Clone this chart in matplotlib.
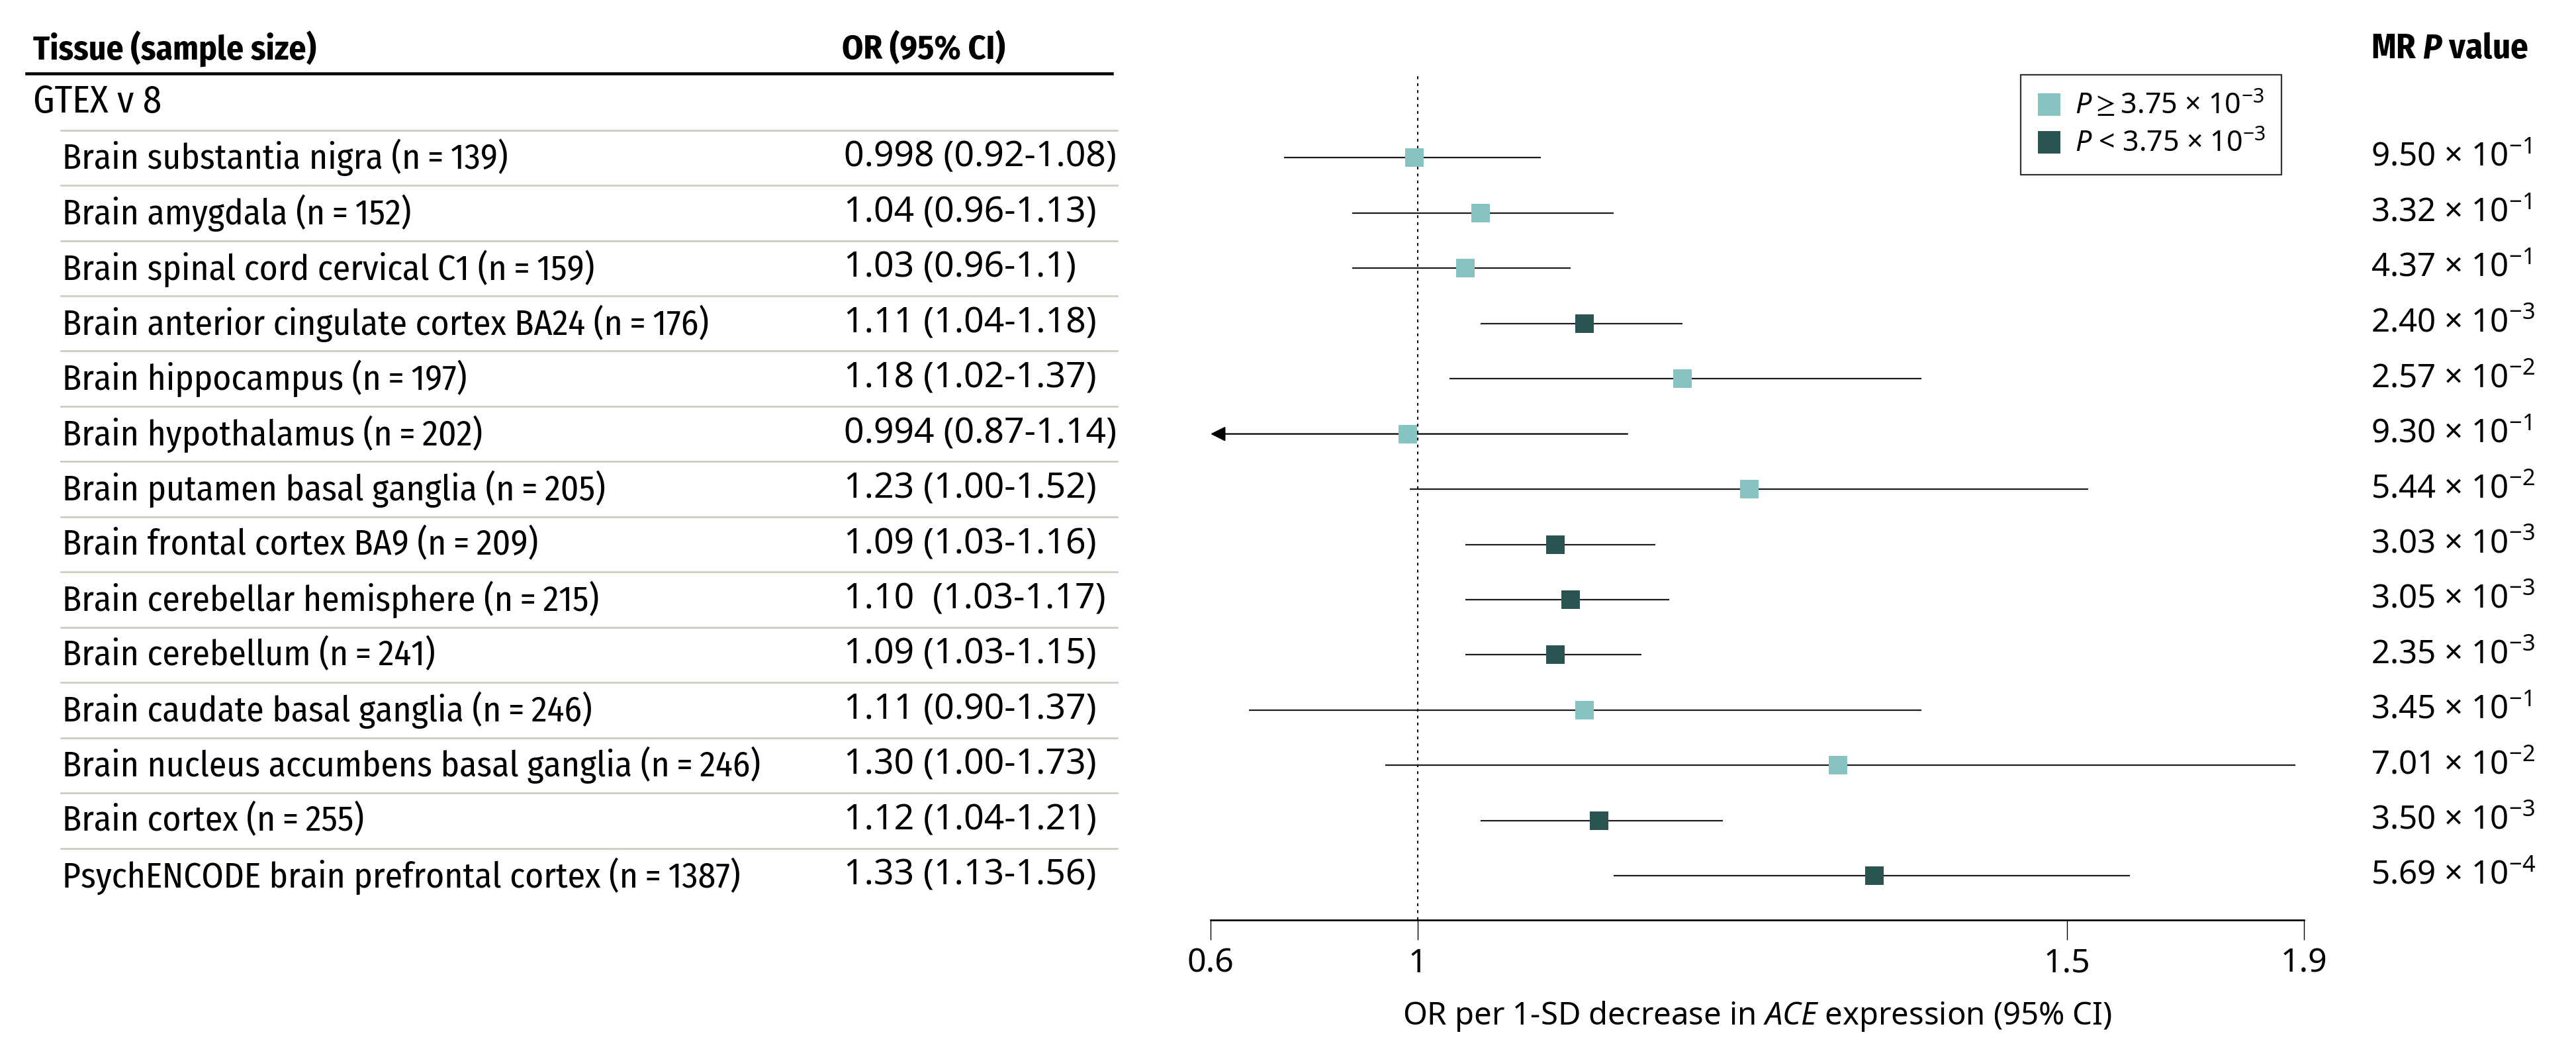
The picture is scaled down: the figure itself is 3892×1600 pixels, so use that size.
"""
Forest plot: MR estimates of ACE expression by brain tissue (GTEx v8 / PsychENCODE).
Output: out.png
"""
import matplotlib
matplotlib.use("Agg")
import matplotlib.pyplot as plt
import matplotlib.transforms as mtransforms
from matplotlib.lines import Line2D
from matplotlib.ticker import FixedLocator, FixedFormatter, NullLocator
import numpy as np

TISSUES = [
    "Brain substantia nigra (n\u2009=\u2009139)",
    "Brain amygdala (n\u2009=\u2009152)",
    "Brain spinal cord cervical C1 (n\u2009=\u2009159)",
    "Brain anterior cingulate cortex BA24 (n\u2009=\u2009176)",
    "Brain hippocampus (n\u2009=\u2009197)",
    "Brain hypothalamus (n\u2009=\u2009202)",
    "Brain putamen basal ganglia (n\u2009=\u2009205)",
    "Brain frontal cortex BA9 (n\u2009=\u2009209)",
    "Brain cerebellar hemisphere (n\u2009=\u2009215)",
    "Brain cerebellum (n\u2009=\u2009241)",
    "Brain caudate basal ganglia (n\u2009=\u2009246)",
    "Brain nucleus accumbens basal ganglia (n\u2009=\u2009246)",
    "Brain cortex (n\u2009=\u2009255)",
    "PsychENCODE brain prefrontal cortex (n\u2009=\u20091387)",
]
OR_TEXT = [
    "0.998 (0.92-1.08)", "1.04 (0.96-1.13)", "1.03 (0.96-1.1)", "1.11 (1.04-1.18)",
    "1.18 (1.02-1.37)", "0.994 (0.87-1.14)", "1.23 (1.00-1.52)", "1.09 (1.03-1.16)",
    "1.10  (1.03-1.17)", "1.09 (1.03-1.15)", "1.11 (0.90-1.37)", "1.30 (1.00-1.73)",
    "1.12 (1.04-1.21)", "1.33 (1.13-1.56)",
]
OR_EST = [0.998, 1.04, 1.03, 1.11, 1.18, 0.994, 1.23, 1.09, 1.10, 1.09, 1.11, 1.30, 1.12, 1.33]
CI_LO = [0.92, 0.96, 0.96, 1.04, 1.02, 0.87, 0.995, 1.03, 1.03, 1.03, 0.90, 0.98, 1.04, 1.13]
CI_HI = [1.08, 1.13, 1.10, 1.18, 1.37, 1.14, 1.52, 1.16, 1.17, 1.15, 1.37, 1.73, 1.21, 1.56]
P_MANT = ["9.50", "3.32", "4.37", "2.40", "2.57", "9.30", "5.44",
          "3.03", "3.05", "2.35", "3.45", "7.01", "3.50", "5.69"]
P_EXP = [-1, -1, -1, -3, -2, -1, -2, -3, -3, -3, -1, -2, -3, -4]
P_CUT = 3.75e-3

# displayed axis range and the (nonlinear) labels printed at its ends
X_RANGE = (0.8786, 1.7395)
TICK_POS = [X_RANGE[0], 1.0, 1.5, X_RANGE[1]]
TICK_LABELS = ["0.6", "1", "1.5", "1.9"]

LIGHT = "#86c3c1"
DARK = "#2a5452"
SEP = "#c9cfc2"
COND = ["Fira Sans Condensed", "DejaVu Sans"]
NUM = ["Noto Sans", "DejaVu Sans"]

plt.rcParams["mathtext.fontset"] = "custom"
plt.rcParams["mathtext.rm"] = "Noto Sans"
plt.rcParams["mathtext.it"] = "Noto Sans:italic"
plt.rcParams["mathtext.bfit"] = "Fira Sans Condensed:italic:bold"
plt.rcParams["mathtext.fallback"] = "stixsans"

W, H = 3892, 1600


def fx(px):
    return px / W


def fy(py):
    return 1 - py / H


def main():
    n = len(TISSUES)
    y = np.arange(n)
    p_vals = np.array([float(m) * 10.0 ** e for m, e in zip(P_MANT, P_EXP)])
    colors = [DARK if p < P_CUT else LIGHT for p in p_vals]

    fig = plt.figure(figsize=(W / 100, H / 100), dpi=100)
    ax = fig.add_axes([fx(1829), fy(1390), fx(3481 - 1829), (1390 - 112) / H])
    ax.set_xscale("log")
    ax.set_xlim(*X_RANGE)
    ax.set_ylim(13.8, -1.514)

    # CIs and point estimates
    for yi, lo, hi, est, c in zip(y, CI_LO, CI_HI, OR_EST, colors):
        if lo < X_RANGE[0]:
            ax.annotate("", xy=(X_RANGE[0], yi), xytext=(hi, yi),
                        arrowprops=dict(arrowstyle="-|>", color="black", lw=1.6,
                                        mutation_scale=34, shrinkA=0, shrinkB=0),
                        zorder=2)
        else:
            ax.hlines(yi, lo, hi, color="#1c1c1c", linewidth=1.6, zorder=2)
        ax.plot(est, yi, marker="s", markersize=20, color=c, markeredgewidth=0,
                linestyle="none", zorder=3)

    ax.axvline(1.0, color="black", linewidth=1.4, linestyle=(0, (2.2, 3.2)), zorder=1)

    for s in ("top", "left", "right"):
        ax.spines[s].set_visible(False)
    ax.spines["bottom"].set_linewidth(1.9)
    ax.yaxis.set_visible(False)
    ax.xaxis.set_major_locator(FixedLocator(TICK_POS))
    ax.xaxis.set_major_formatter(FixedFormatter(TICK_LABELS))
    ax.xaxis.set_minor_locator(NullLocator())
    ax.tick_params(axis="x", direction="out", length=21.5, width=1.0, pad=8,
                   labelsize=36)
    for lab in ax.get_xticklabels():
        lab.set_family(NUM)
    ax.set_xlabel("OR per 1-SD decrease in $\\mathit{ACE}$ expression (95% CI)",
                  fontsize=34, family=NUM, labelpad=21)

    # table on the left and P values on the right
    trans = mtransforms.blended_transform_factory(fig.transFigure, ax.transData)
    fig.text(fx(50), fy(74), "Tissue (sample size)", fontsize=37, family=COND,
             weight="bold", va="center")
    fig.text(fx(1272), fy(74), "OR (95% CI)", fontsize=37, family=COND,
             weight="bold", va="center")
    fig.text(fx(3582), fy(74), "MR $\\mathbfit{P}$ value", fontsize=38, family=COND,
             weight="bold", va="center")
    fig.add_artist(Line2D([fx(40), fx(1680)], [fy(111), fy(111)], color="black",
                          linewidth=3.3))
    ax.text(fx(50), -1, "GTEX v 8", transform=trans, fontsize=41, family=COND,
            va="center")
    for yi in y:
        ax.add_line(Line2D([fx(92), fx(1688)], [yi - 0.5, yi - 0.5], transform=trans,
                           color=SEP, linewidth=2.0, clip_on=False))
    for yi, name, ort, m, e in zip(y, TISSUES, OR_TEXT, P_MANT, P_EXP):
        ax.text(fx(94), yi, name, transform=trans, fontsize=38.5, family=COND,
                va="center")
        ax.text(fx(1275), yi, ort, transform=trans, fontsize=38.5, family=NUM,
                va="center")
        ax.text(fx(3582), yi, f"{m} \u00d7 10$^{{{e}}}$", transform=trans,
                fontsize=35.5, family=NUM, va="center")

    handles = [
        Line2D([], [], marker="s", linestyle="none", markersize=24, markeredgewidth=0,
               color=LIGHT, label="$\\mathit{P} \\geq 3.75$ \u00d7 10$^{-3}$"),
        Line2D([], [], marker="s", linestyle="none", markersize=24, markeredgewidth=0,
               color=DARK, label="$\\mathit{P}$ < 3.75 \u00d7 10$^{-3}$"),
    ]
    leg = ax.legend(handles=handles, loc="upper left",
                    bbox_to_anchor=(fx(3053), fy(113)), bbox_transform=fig.transFigure,
                    borderaxespad=0, frameon=True, fancybox=False, framealpha=1,
                    edgecolor="#333333", handlelength=0.9, handletextpad=0.45,
                    borderpad=0.55, labelspacing=0.3,
                    prop={"family": NUM, "size": 31})
    leg.get_frame().set_linewidth(1.6)

    fig.savefig("out.png", dpi=100)
    plt.close(fig)


if __name__ == "__main__":
    main()
